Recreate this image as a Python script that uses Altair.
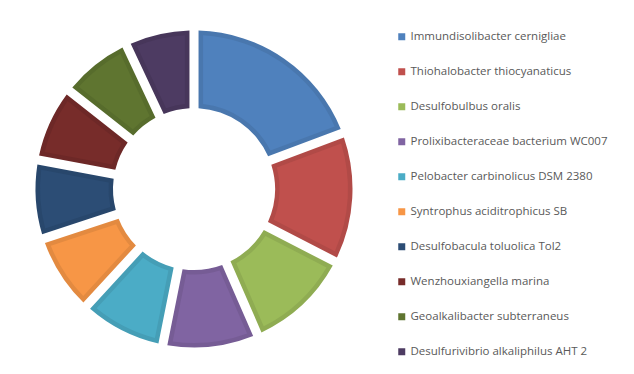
import altair as alt
import pandas as pd

names = [
    "Immundisolibacter cernigliae",
    "Thiohalobacter thiocyanaticus",
    "Desulfobulbus oralis",
    "Prolixibacteraceae bacterium WC007",
    "Pelobacter carbinolicus DSM 2380",
    "Syntrophus aciditrophicus SB",
    "Desulfobacula toluolica Tol2",
    "Wenzhouxiangella marina",
    "Geoalkalibacter subterraneus",
    "Desulfurivibrio alkaliphilus AHT 2",
]
values = [19.3, 13.3, 10.9, 9.7, 8.7, 8.1, 8.0, 7.7, 7.4, 7.0]
fill_colors = ["#4F81BD", "#C0504D", "#9BBB59", "#8064A2", "#4BACC6",
               "#F79646", "#2C4D75", "#772C2A", "#5F7530", "#4D3B62"]
border_colors = ["#4977AE", "#B14A47", "#8FAC52", "#765C95", "#459EB6",
                 "#E38A40", "#28476C", "#6D2827", "#576C2C", "#47365A"]

df = pd.DataFrame({"name": names, "value": values, "idx": list(range(len(names)))})

theta = alt.Theta("value:Q", stack=True)
order = alt.Order("idx:Q")

outer = alt.Chart(df).mark_arc(
    radius=158.5, radius2=81, padAngle=0.051
).encode(
    theta=theta,
    order=order,
    color=alt.Color("name:N", sort=names,
                    scale=alt.Scale(domain=names, range=border_colors),
                    legend=None),
)

inner = alt.Chart(df).mark_arc(
    radius=154, radius2=85.5, padAngle=0.103
).encode(
    theta=theta,
    order=order,
    color=alt.Color("name:N", sort=names,
                    scale=alt.Scale(domain=names, range=fill_colors),
                    legend=alt.Legend(
                        title=None, orient="none", legendX=383, legendY=18,
                        symbolType="square", symbolSize=49, symbolStrokeWidth=0,
                        labelFont="Open Sans", labelFontSize=11.5, labelColor="#595959",
                        rowPadding=22, labelOffset=3, labelLimit=300,
                    )),
)

chart = alt.layer(outer, inner).resolve_scale(color="independent").properties(
    width=362, height=352
).configure_view(stroke=None)

chart.save("out.html", embed_options={"renderer": "svg", "actions": False})
